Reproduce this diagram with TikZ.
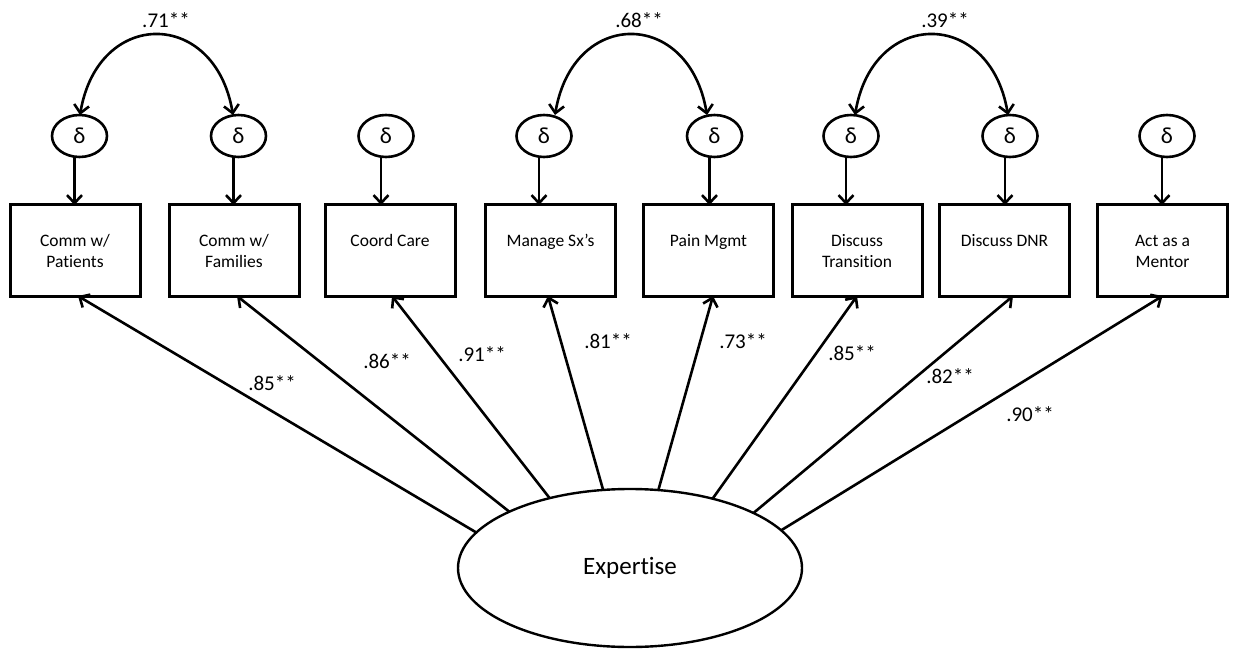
\documentclass[tikz,border=0pt]{standalone}
\usepackage{fontspec}
\setmainfont[Ligatures=NoCommon]{Carlito}
\usetikzlibrary{arrows.meta,shapes.geometric}
\begin{document}
\begin{tikzpicture}[x=1pt,y=-1pt,
  box/.style={draw,line width=3pt,minimum width=130pt,minimum height=91pt,inner sep=0pt,outer sep=0pt},
  err/.style={draw,ellipse,line width=2.6pt,minimum width=55pt,minimum height=42pt,inner sep=0pt,outer sep=0pt,font=\fontsize{23}{27}\selectfont},
  lat/.style={draw,ellipse,line width=2.4pt,minimum width=344pt,minimum height=158pt,inner sep=0pt,outer sep=0pt,font=\fontsize{25}{30}\selectfont},
  lbl/.style={anchor=north,align=center,inner sep=0pt,font=\fontsize{17.5}{21}\selectfont},
  coef/.style={inner sep=0pt,font=\fontsize{21}{25}\selectfont},
  tipb/.tip={Straight Barb[length=8pt,width=15pt]},
  arr/.style={-tipb,line width=2.6pt},
  cov/.style={tipb-tipb,line width=2.6pt}
]
\useasboundingbox (0,0) rectangle (1236,652);

% latent factor
\node[lat] (ex) at (630,568) {Expertise};

% indicators
\node[box] (b1) at (75,250.5) {};
\node[box] (b2) at (234,250.5) {};
\node[box] (b3) at (390,250.5) {};
\node[box] (b4) at (550.5,250.5) {};
\node[box] (b5) at (708.5,250.5) {};
\node[box] (b6) at (857,250.5) {};
\node[box] (b7) at (1004.5,250.5) {};
\node[box] (b8) at (1162.5,250.5) {};

\node[lbl] (t1) at (75,231.5) {\rule{0pt}{15pt}Comm w/\\Patients};
\node[lbl] (t2) at (234,231.5) {\rule{0pt}{15pt}Comm w/\\Families};
\node[lbl] (t3) at (390,231.5) {\rule{0pt}{15pt}Coord Care};
\node[lbl] (t4) at (550.5,231.5) {\rule{0pt}{15pt}Manage Sx's};
\node[lbl] (t5) at (708.5,231.5) {\rule{0pt}{15pt}Pain Mgmt};
\node[lbl] (t6) at (857,231.5) {\rule{0pt}{15pt}Discuss\\Transition};
\node[lbl] (t7) at (1004.5,231.5) {\rule{0pt}{15pt}Discuss DNR};
\node[lbl] (t8) at (1162.5,231.5) {\rule{0pt}{15pt}Act as a\\Mentor};

% error terms
\node[err] (d1) at (79.5,136) {δ};
\node[err] (d2) at (238.5,136) {δ};
\node[err] (d3) at (386,136) {δ};
\node[err] (d4) at (544,136) {δ};
\node[err] (d5) at (714.5,136) {δ};
\node[err] (d6) at (851,136) {δ};
\node[err] (d7) at (1010,136) {δ};
\node[err] (d8) at (1167,136) {δ};

\foreach \i in {1,...,8}{
  \draw[arr] ([xshift=-5pt]d\i.south) -- ([xshift=-5pt]d\i.south |- b\i.north);
}

% error covariances
\draw[cov] ([xshift=0.5pt]d1.north) .. controls +(18,-107) and +(-18,-107) .. ([xshift=-5.5pt]d2.north);
\draw[cov] ([xshift=11pt]d4.north) .. controls +(18,-107) and +(-18,-107) .. ([xshift=-7.5pt]d5.north);
\draw[cov] ([xshift=4pt]d6.north) .. controls +(18,-107) and +(-18,-107) .. ([xshift=-2pt]d7.north);

\node[coef] (c12) at (166,20) {.71**};
\node[coef] (c45) at (639,20) {.68**};
\node[coef] (c67) at (945,20) {.39**};

% factor loadings
\draw[arr] (ex.167.3) -- ([xshift=3pt]b1.south);
\draw[arr] (ex.155.7) -- ([xshift=3pt]b2.south);
\draw[arr] (ex.139.2) -- ([xshift=2pt]b3.south);
\draw[arr] (ex.109.1) -- ([xshift=-2.5pt]b4.south);
\draw[arr] (ex.70.7) -- ([xshift=4.5pt]b5.south);
\draw[arr] (ex.40.8) -- (b6.south);
\draw[arr] (ex.24.1) -- ([xshift=8.5pt]b7.south);
\draw[arr] (ex.14.2) -- (b8.south);

\node[coef] (l1) at (272,383) {.85**};
\node[coef] (l2) at (387,361) {.86**};
\node[coef] (l3) at (482,354) {.91**};
\node[coef] (l4) at (608,341) {.81**};
\node[coef] (l5) at (743,341) {.73**};
\node[coef] (l6) at (852,353) {.85**};
\node[coef] (l7) at (950,376) {.82**};
\node[coef] (l8) at (1030,414) {.90**};
\end{tikzpicture}
\end{document}
